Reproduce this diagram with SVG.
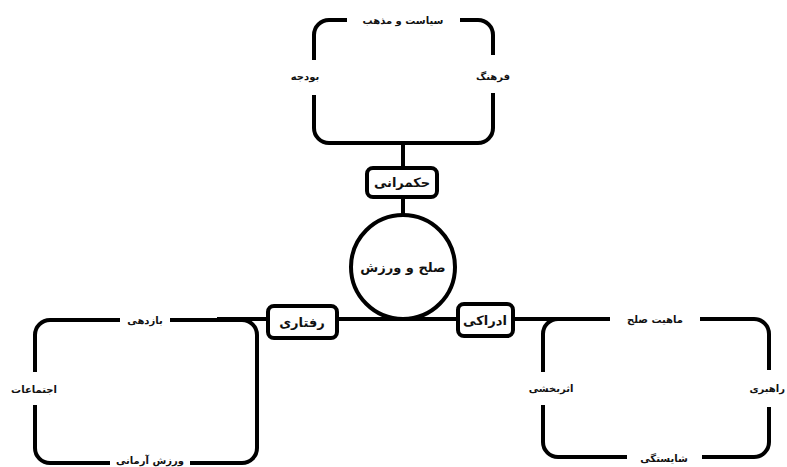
<svg xmlns="http://www.w3.org/2000/svg" width="787" height="467" viewBox="0 0 787 467">
<style>
.ln{fill:none;stroke:#000;stroke-width:4;stroke-linecap:butt;stroke-linejoin:round}
.bx{fill:#fff;stroke:#000;stroke-width:4}
.t{font-family:"DejaVu Sans","Noto Sans",sans-serif;font-size:10px;font-weight:bold;fill:#111;text-anchor:middle}
.h{font-family:"DejaVu Sans","Noto Sans",sans-serif;font-size:13px;font-weight:bold;fill:#111;text-anchor:middle}
</style>
<rect width="787" height="467" fill="#fff"/>
<g id="connectors">
<path class="ln" d="M403,143 V168"/>
<path class="ln" d="M403,197 V215"/>
<path class="ln" d="M217,319 H268"/>
<path class="ln" d="M337,319 H458"/>
<path class="ln" d="M513,319 H610"/>
</g>
<g id="top-box">
<path class="ln" d="M314,60 V35 A15,15 0 0 1 329,20 H347"/>
<path class="ln" d="M460,20 H478 A15,15 0 0 1 493,35 V55"/>
<path class="ln" d="M493,93 V128 A15,15 0 0 1 478,143 H329 A15,15 0 0 1 314,128 V95"/>
<text class="t" x="403" y="24">سیاست و مذهب</text>
<text class="t" x="305" y="80">بودجه</text>
<text class="t" x="493" y="80">فرهنگ</text>
</g>
<g id="hokmrani">
<rect class="bx" x="367" y="168" width="70" height="29" rx="6"/>
<text class="h" x="402" y="187">حکمرانی</text>
</g>
<g id="center">
<circle class="bx" cx="403" cy="267" r="52"/>
<text class="h" x="403" y="272">صلح و ورزش</text>
</g>
<g id="raftari">
<rect class="bx" x="268" y="306" width="69" height="32" rx="6"/>
<text class="h" x="302" y="327">رفتاری</text>
</g>
<g id="edraki">
<rect class="bx" x="458" y="304" width="55" height="32" rx="6"/>
<text class="h" x="485" y="325">ادراکی</text>
</g>
<g id="left-box">
<path class="ln" d="M120,320 H50 A15,15 0 0 0 35,335 V372"/>
<path class="ln" d="M35,405 V448 A15,15 0 0 0 50,463 H110"/>
<path class="ln" d="M190,463 H242 A15,15 0 0 0 257,448 V335 A15,15 0 0 0 242,320 H170"/>
<text class="t" x="145" y="324">بازدهی</text>
<text class="t" x="34" y="393">اجتماعات</text>
<text class="t" x="150" y="464">ورزش آرمانی</text>
</g>
<g id="right-box">
<path class="ln" d="M558,319 A15,15 0 0 0 543,334 V372"/>
<path class="ln" d="M543,405 V442 A15,15 0 0 0 558,457 H627"/>
<path class="ln" d="M702,457 H754 A15,15 0 0 0 769,442 V407"/>
<path class="ln" d="M769,370 V334 A15,15 0 0 0 754,319 H700"/>
<text class="t" x="655" y="323">ماهیت صلح</text>
<text class="t" x="551" y="392">اثربخشی</text>
<text class="t" x="785" y="392" style="text-anchor:end">راهبری</text>
<text class="t" x="664" y="462">شایستگی</text>
</g>
</svg>
